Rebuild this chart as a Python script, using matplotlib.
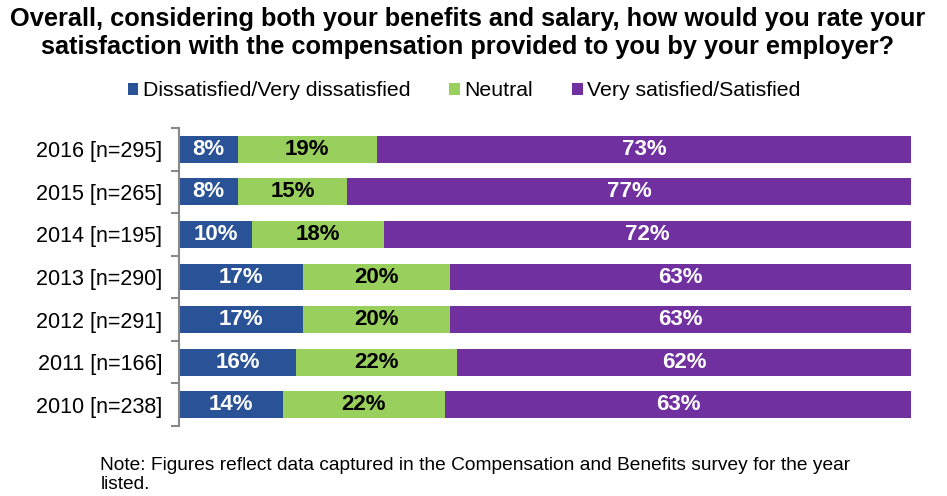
import numpy as np
import matplotlib
matplotlib.use("Agg")
import matplotlib.pyplot as plt

plt.rcParams['font.family'] = ['Liberation Sans', 'DejaVu Sans']

years = ['2016 [n=295]', '2015 [n=265]', '2014 [n=195]', '2013 [n=290]',
         '2012 [n=291]', '2011 [n=166]', '2010 [n=238]']
dissatisfied = [8, 8, 10, 17, 17, 16, 14]
neutral = [19, 15, 18, 20, 20, 22, 22]
satisfied = [73, 77, 72, 63, 63, 62, 63]

series = ['Dissatisfied/Very dissatisfied', 'Neutral', 'Very satisfied/Satisfied']
colors = ['#2A5297', '#99CF5C', '#7030A0']
text_colors = ['white', 'black', 'white']

data = np.array([dissatisfied, neutral, satisfied], dtype=float)
totals = data.sum(axis=0)
shares = data / totals * 100

fig = plt.figure(figsize=(9.47, 4.96), dpi=100)
ax = fig.add_axes([0.189, 0.141, 0.773, 0.601])

y = np.arange(len(years))
left = np.zeros(len(years))
for i in range(3):
    ax.barh(y, shares[i], left=left, height=0.63, color=colors[i],
            label=series[i])
    for j in range(len(years)):
        ax.text(left[j] + shares[i][j] / 2, y[j], f'{int(data[i][j])}%',
                ha='center', va='center', color=text_colors[i],
                fontsize=16, fontweight='bold')
    left += shares[i]

ax.set_xlim(0, 100)
ax.set_ylim(len(years) - 0.5, -0.5)
ax.set_yticks(y)
ax.set_yticklabels(years, fontsize=15.5)
ax.set_yticks(np.arange(-0.5, len(years)), minor=True)
ax.tick_params(axis='y', which='major', length=0, pad=12)
ax.tick_params(axis='y', which='minor', length=6, color='#888888', width=1.5)
ax.set_xticks([])
for s in ['top', 'right', 'bottom']:
    ax.spines[s].set_visible(False)
ax.spines['left'].set_color('#888888')
ax.spines['left'].set_linewidth(1.5)

fig.text(0.494, 0.985, 'Overall, considering both your benefits and salary, how would you rate your\n'
         'satisfaction with the compensation provided to you by your employer?',
         ha='center', va='top', fontsize=18.3, fontweight='bold', linespacing=1.2)

fig.legend(loc='center', bbox_to_anchor=(0.49, 0.817), ncol=3, frameon=False,
           fontsize=15.3, handlelength=0.5, handleheight=0.5, handletextpad=0.2,
           columnspacing=1.85)

fig.text(0.106, 0.042, 'Note: Figures reflect data captured in the Compensation and Benefits survey for the year\nlisted.',
         ha='left', va='center', fontsize=13.8, linespacing=1.15)

fig.savefig('out.png', dpi=100)
